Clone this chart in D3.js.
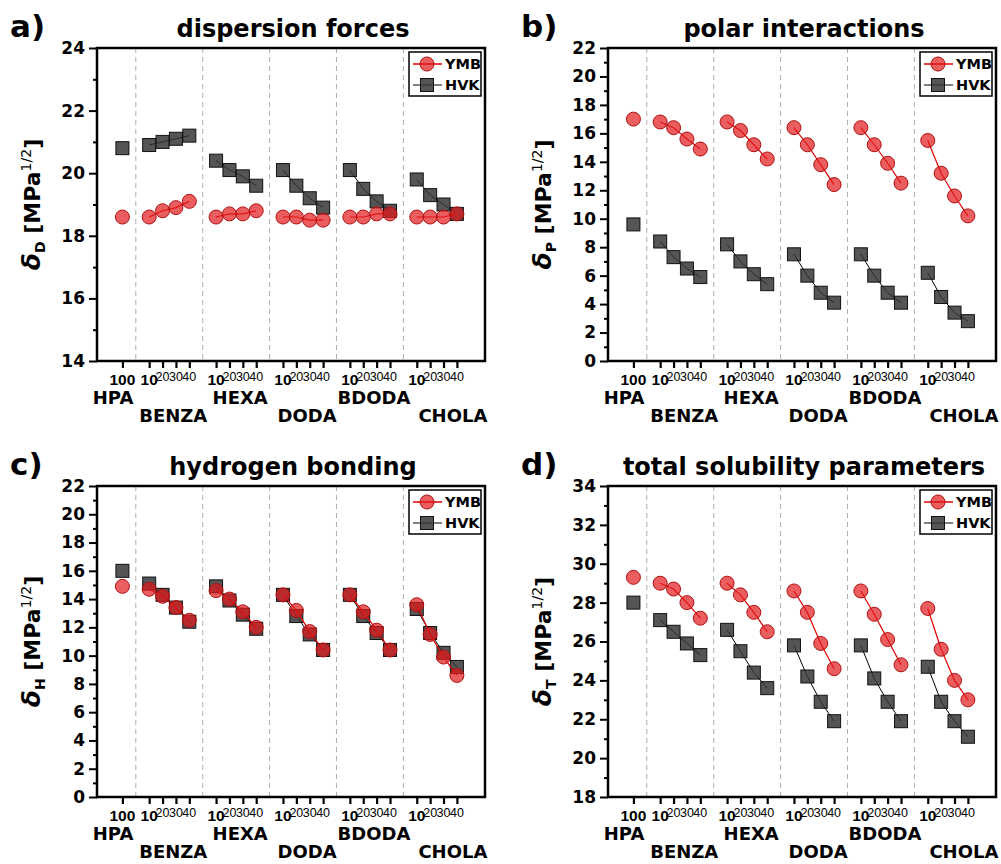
<!DOCTYPE html>
<html>
<head>
<meta charset="utf-8">
<script src="https://cdn.jsdelivr.net/npm/d3@7"></script>
<style>
  body { margin: 0; background: #fff; }
  svg { display: block; }
  .tick text { font-family: "DejaVu Sans", sans-serif; font-weight: bold; }
</style>
</head>
<body>
<div id="chart"></div>
<script>
// ---- data ----
const groups = ["HPA", "BENZA", "HEXA", "DODA", "BDODA", "CHOLA"];
const concentrations = [[100], [10, 20, 30, 40], [10, 20, 30, 40], [10, 20, 30, 40], [10, 20, 30, 40], [10, 20, 30, 40]];
const seriesNames = ["YMB", "HVK"];

// a) dispersion forces
const ymbD = [18.6, 18.6, 18.8, 18.9, 19.1, 18.6, 18.7, 18.7, 18.8, 18.6, 18.6, 18.5, 18.5, 18.6, 18.6, 18.7, 18.7, 18.6, 18.6, 18.6, 18.7];
const hvkD = [20.8, 20.9, 21.0, 21.1, 21.2, 20.4, 20.1, 19.9, 19.6, 20.1, 19.6, 19.2, 18.9, 20.1, 19.5, 19.1, 18.8, 19.8, 19.3, 19.0, 18.7];
// b) polar interactions
const ymbP = [17.0, 16.8, 16.4, 15.6, 14.9, 16.8, 16.2, 15.2, 14.2, 16.4, 15.2, 13.8, 12.4, 16.4, 15.2, 13.9, 12.5, 15.5, 13.2, 11.6, 10.2];
const hvkP = [9.6, 8.4, 7.3, 6.5, 5.9, 8.2, 7.0, 6.1, 5.4, 7.5, 6.0, 4.8, 4.1, 7.5, 6.0, 4.8, 4.1, 6.2, 4.5, 3.4, 2.8];
// c) hydrogen bonding
const ymbH = [14.9, 14.7, 14.2, 13.4, 12.5, 14.6, 14.0, 13.1, 12.0, 14.3, 13.2, 11.7, 10.4, 14.3, 13.1, 11.8, 10.4, 13.6, 11.5, 9.9, 8.6];
const hvkH = [16.0, 15.1, 14.3, 13.4, 12.4, 14.9, 13.9, 12.9, 11.9, 14.3, 12.8, 11.5, 10.4, 14.3, 12.8, 11.6, 10.4, 13.3, 11.6, 10.2, 9.2];
// d) total solubility parameters
const ymbT = [29.3, 29.0, 28.7, 28.0, 27.2, 29.0, 28.4, 27.5, 26.5, 28.6, 27.5, 25.9, 24.6, 28.6, 27.4, 26.1, 24.8, 27.7, 25.6, 24.0, 23.0];
const hvkT = [28.0, 27.1, 26.5, 25.9, 25.3, 26.6, 25.5, 24.4, 23.6, 25.8, 24.2, 22.9, 21.9, 25.8, 24.1, 22.9, 21.9, 24.7, 22.9, 21.9, 21.1];

const panels = [
  { tag: "a)", title: "dispersion forces", sub: "D", yDomain: [14, 24], yStep: 2, ymb: ymbD, hvk: hvkD },
  { tag: "b)", title: "polar interactions", sub: "P", yDomain: [0, 22], yStep: 2, ymb: ymbP, hvk: hvkP },
  { tag: "c)", title: "hydrogen bonding", sub: "H", yDomain: [0, 22], yStep: 2, ymb: ymbH, hvk: hvkH },
  { tag: "d)", title: "total solubility parameters", sub: "T", yDomain: [18, 34], yStep: 2, ymb: ymbT, hvk: hvkT }
];

// ---- categorical positions: one empty slot between groups ----
const points = [];      // {group, conc, u}
const separators = [];
const groupCenters = [];
let u = 0;
groups.forEach((g, gi) => {
  if (gi > 0) { u += 1; separators.push(u); }
  const start = u + 1;
  concentrations[gi].forEach(c => { u += 1; points.push({ group: g, gi, conc: c, u }); });
  groupCenters.push((start + u) / 2);
});

// ---- layout ----
const W = 1001, H = 864;
const plotW = 388;
const origins = [[97, 48, 313], [608, 48, 313], [97, 486, 311], [608, 486, 311]];
const font = "'DejaVu Sans', sans-serif";
const arial = "'Liberation Sans', Arial, sans-serif";

const svg = d3.select("#chart").append("svg")
  .attr("width", W).attr("height", H)
  .style("background", "#fff");

const RED = "#e31a1c", RED_LINE = "#e00000", GREY = "#333333";

panels.forEach((p, i) => {
  const [x0, y0, plotH] = origins[i];
  const g = svg.append("g").attr("transform", `translate(${x0},${y0})`);

  const x = d3.scaleLinear().domain([-0.9, 28.1]).range([0, plotW]);
  const y = d3.scaleLinear().domain(p.yDomain).range([plotH, 0]);

  // panel tag and title
  svg.append("text")
    .attr("x", x0 - 87).attr("y", y0 - 11)
    .attr("font-family", font).attr("font-weight", "bold").attr("font-size", 31)
    .text(p.tag);
  svg.append("text")
    .attr("x", x0 + plotW / 2 + 2).attr("y", y0 - 11)
    .attr("text-anchor", "middle")
    .attr("font-family", font).attr("font-weight", "bold").attr("font-size", 24)
    .text(p.title);

  // group separators
  g.selectAll("line.sep").data(separators).join("line")
    .attr("class", "sep")
    .attr("x1", d => x(d)).attr("x2", d => x(d))
    .attr("y1", 0).attr("y2", plotH)
    .attr("stroke", "#b0b0b0").attr("stroke-width", 1)
    .attr("stroke-dasharray", "5,4");

  // y axis: major + minor ticks
  const [y0d, y1d] = p.yDomain;
  const major = d3.range(y0d, y1d + 0.001, p.yStep);
  const minor = d3.range(y0d + p.yStep / 2, y1d, p.yStep);
  const yAxis = g.append("g")
    .call(d3.axisLeft(y).tickValues(major).tickSize(8).tickPadding(4));
  yAxis.selectAll(".tick text").attr("font-size", 17).attr("fill", "#000");
  yAxis.selectAll(".tick line").attr("stroke-width", 2);
  yAxis.select(".domain").remove();
  g.append("g")
    .call(d3.axisLeft(y).tickValues(minor).tickSize(4).tickFormat(""))
    .call(s => s.select(".domain").remove())
    .selectAll(".tick line").attr("stroke-width", 2);

  // x axis ticks
  const xAxis = g.append("g").attr("transform", `translate(0,${plotH})`)
    .call(d3.axisBottom(x).tickValues(points.map(d => d.u)).tickSize(7).tickFormat(""));
  xAxis.select(".domain").remove();
  xAxis.selectAll(".tick line").attr("stroke-width", 2.2);

  // x tick labels: first of each group bold, rest small
  const isBig = d => d.conc === 10 || d.conc === 100;
  g.selectAll("text.xl").data(points).join("text")
    .attr("class", "xl")
    .attr("x", d => x(d.u))
    .attr("y", d => plotH + (isBig(d) ? 24 : 20))
    .attr("text-anchor", "middle")
    .style("font-family", arial)
    .style("font-weight", d => isBig(d) ? "bold" : "normal")
    .style("font-size", d => isBig(d) ? "15.5px" : "12.5px")
    .text(d => d.conc);

  // group labels, alternating rows
  const nudge = { HPA: -1.0, CHOLA: 0.9 };
  g.selectAll("text.gl").data(groups).join("text")
    .attr("class", "gl")
    .attr("x", (d, gi) => x(groupCenters[gi] + 0.3 + (nudge[d] || 0)))
    .attr("y", (d, gi) => plotH + (gi % 2 === 0 ? 43 : 61))
    .attr("text-anchor", "middle")
    .attr("font-family", font).attr("font-weight", "bold").attr("font-size", 18)
    .text(d => d);

  // y label
  const yl = g.append("text")
    .attr("transform", `translate(${-57},${plotH / 2}) rotate(-90)`)
    .attr("text-anchor", "middle")
    .attr("font-family", font).attr("font-weight", "bold").attr("font-size", 22);
  yl.append("tspan").attr("font-style", "italic").attr("font-size", 25).text("δ");
  yl.append("tspan").attr("font-size", 14).attr("dy", 5).text(p.sub);
  yl.append("tspan").attr("dy", -5).text(" [MPa");
  yl.append("tspan").attr("font-size", 14).attr("font-weight", "normal").attr("dy", -9).text("1/2");
  yl.append("tspan").attr("dy", 9).text("]");

  // series
  const line = d3.line().x(d => x(d.u)).y(d => y(d.v));
  const seriesData = name => points.map((pt, k) => ({ ...pt, v: (name === "YMB" ? p.ymb : p.hvk)[k] }));
  const hvk = seriesData("HVK"), ymb = seriesData("YMB");

  // HVK lines + squares
  groups.forEach((gname, gi) => {
    const seg = hvk.filter(d => d.gi === gi);
    if (seg.length > 1) g.append("path").datum(seg).attr("d", line)
      .attr("fill", "none").attr("stroke", "#000").attr("stroke-width", 1);
  });
  g.selectAll("rect.hvk").data(hvk).join("rect")
    .attr("class", "hvk")
    .attr("x", d => x(d.u) - 6.5).attr("y", d => y(d.v) - 6.5)
    .attr("width", 13).attr("height", 13)
    .attr("fill", GREY).attr("fill-opacity", 0.83)
    .attr("stroke", "#111").attr("stroke-width", 1);

  // YMB lines + circles
  groups.forEach((gname, gi) => {
    const seg = ymb.filter(d => d.gi === gi);
    if (seg.length > 1) g.append("path").datum(seg).attr("d", line)
      .attr("fill", "none").attr("stroke", RED_LINE).attr("stroke-width", 1.2);
  });
  g.selectAll("circle.ymb").data(ymb).join("circle")
    .attr("class", "ymb")
    .attr("cx", d => x(d.u)).attr("cy", d => y(d.v)).attr("r", 7)
    .attr("fill", RED).attr("fill-opacity", 0.7)
    .attr("stroke", "#b01010").attr("stroke-width", 1);

  // frame
  g.append("rect").attr("width", plotW).attr("height", plotH)
    .attr("fill", "none").attr("stroke", "#000").attr("stroke-width", 2.5);

  // legend
  const lg = g.append("g").attr("transform", `translate(${plotW - 76},${4})`);
  lg.append("rect").attr("width", 72).attr("height", 44)
    .attr("fill", "#fff").attr("stroke", "#000").attr("stroke-width", 1.5);
  seriesNames.forEach((name, k) => {
    const ly = 12 + k * 21;
    lg.append("line").attr("x1", 4).attr("x2", 33).attr("y1", ly).attr("y2", ly)
      .attr("stroke", name === "YMB" ? RED_LINE : "#000").attr("stroke-width", name === "YMB" ? 1.5 : 1);
    if (name === "YMB") {
      lg.append("circle").attr("cx", 18).attr("cy", ly).attr("r", 7)
        .attr("fill", RED).attr("fill-opacity", 0.7).attr("stroke", "#b01010");
    } else {
      lg.append("rect").attr("x", 11.5).attr("y", ly - 6.5).attr("width", 13).attr("height", 13)
        .attr("fill", GREY).attr("fill-opacity", 0.83).attr("stroke", "#111");
    }
    lg.append("text").attr("x", 36).attr("y", ly + 5)
      .attr("font-family", font).attr("font-weight", "bold").attr("font-size", 14.5)
      .text(name);
  });
});
</script>
</body>
</html>
